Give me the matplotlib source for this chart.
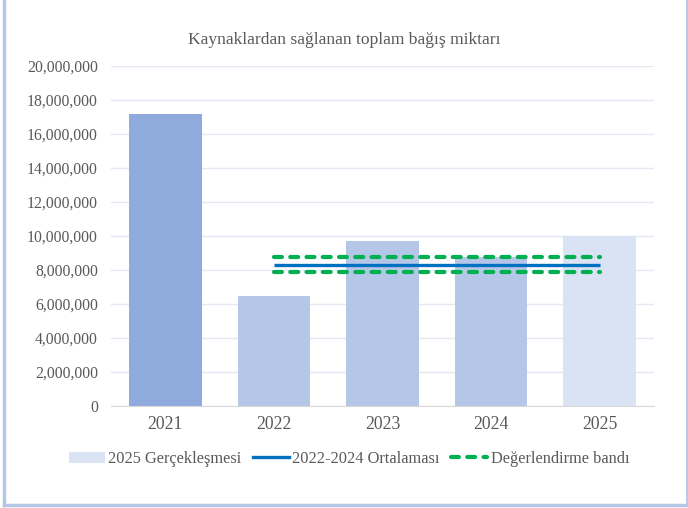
import matplotlib
matplotlib.use("Agg")
import matplotlib.pyplot as plt
from matplotlib.ticker import FuncFormatter
from matplotlib.lines import Line2D
from matplotlib.patches import Patch

years = ["2021", "2022", "2023", "2024", "2025"]
values = [17200000, 6480000, 9700000, 8780000, 9980000]
bar_colors = ["#8FAADC", "#B4C7E7", "#B4C7E7", "#B4C7E7", "#DAE3F3"]
avg_value = sum(values[1:4]) / 3
band_low = avg_value * 0.95
band_high = avg_value * 1.05
line_span = [1, 4]  # category positions (2022 .. 2025)
title = "Kaynaklardan sağlanan toplam bağış miktarı"
legend_labels = ["2025 Gerçekleşmesi", "2022-2024 Ortalaması", "Değerlendirme bandı"]

plt.rcParams['font.family'] = ['Liberation Serif', 'DejaVu Serif']

fig = plt.figure(figsize=(6.88, 5.08), dpi=100)
ax = fig.add_axes([111/688, 1-406/508, (654-111)/688, (406-66)/508])

dash = (0, (1.9, 2.0))
x = list(range(len(years)))
ax.bar(x, values, width=0.67, color=bar_colors, zorder=2)
ax.plot(line_span, [avg_value, avg_value], color="#0070C0", lw=2.4, zorder=3, solid_capstyle='butt')
for v in (band_low, band_high):
    ax.plot(line_span, [v, v], color="#00B050", lw=3.0, ls=dash, dash_capstyle='round', zorder=3)

ax.set_xlim(-0.5, 4.5)
ax.set_ylim(0, 20000000)
ax.set_yticks(range(0, 20000001, 2000000))
ax.yaxis.set_major_formatter(FuncFormatter(lambda v, p: f"{int(v):,}"))
ax.set_xticks(x)
ax.set_xticklabels(years)
ax.grid(axis='y', color="#E3E9F3", lw=1, zorder=0)
ax.set_axisbelow(True)
for s in ("top", "right", "left"):
    ax.spines[s].set_visible(False)
ax.spines["bottom"].set_color("#D9D9D9")
ax.tick_params(axis='y', length=0, labelsize=11.3, labelcolor="#595959", pad=9.5)
ax.tick_params(axis='x', length=0, labelsize=12.7, labelcolor="#595959", pad=7)

fig.text(0.5, 1-40/508, title, ha='center', va='center', fontsize=12.6, color="#595959")

handles = [Patch(facecolor="#DAE3F3", edgecolor='none'),
           Line2D([], [], color="#0070C0", lw=2.4),
           Line2D([], [], color="#00B050", lw=3.0, ls=dash, dash_capstyle='round')]
leg = fig.legend(handles, legend_labels, loc='center', bbox_to_anchor=(349/688, 1-459/508), ncol=3,
                 frameon=False, fontsize=11.8, handlelength=2.2, columnspacing=0.7, handletextpad=0.2,
                 labelcolor="#595959")

# figure border (left, right, bottom)
bc = "#B4C7E7"
fig.add_artist(Line2D([4/688, 4/688], [3/508, 1], color=bc, lw=2.5, transform=fig.transFigure))
fig.add_artist(Line2D([686.5/688, 686.5/688], [3/508, 1], color=bc, lw=2, transform=fig.transFigure))
fig.add_artist(Line2D([4/688, 686.5/688], [3/508, 3/508], color=bc, lw=2.5, transform=fig.transFigure))

fig.savefig("out.png", dpi=100)
